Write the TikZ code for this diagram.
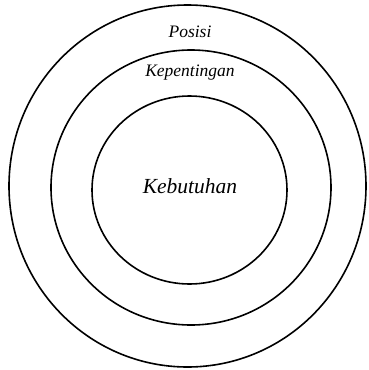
\documentclass[tikz,border=0pt]{standalone}
\usepackage{fontspec}
\setmainfont{Liberation Serif}
\usepackage{tikz}

\tikzset{
    ring/.style={draw, line width=1.6pt},
    ringlabel/.style={font=\itshape\fontsize{17.5}{20}\selectfont}
}

\begin{document}
\begin{tikzpicture}[x=1pt, y=-1pt]

    \useasboundingbox (0,0) rectangle (368,370);

    % Outer circle
    \draw[ring] (187.5,186) ellipse (178.5 and 181);

    % Middle circle
    \draw[ring] (191,187.5) ellipse (140 and 137.5);

    % Inner circle
    \draw[ring] (189.5,190) ellipse (97.5 and 94);

    % Labels
    \node[ringlabel] (posisi) at (190,32) {Posisi};
    \node[ringlabel] (kepentingan) at (190,73) {Kepentingan};
    \node[ringlabel, font=\itshape\fontsize{21.5}{24}\selectfont] (kebutuhan) at (190,186) {Kebutuhan};

\end{tikzpicture}
\end{document}
